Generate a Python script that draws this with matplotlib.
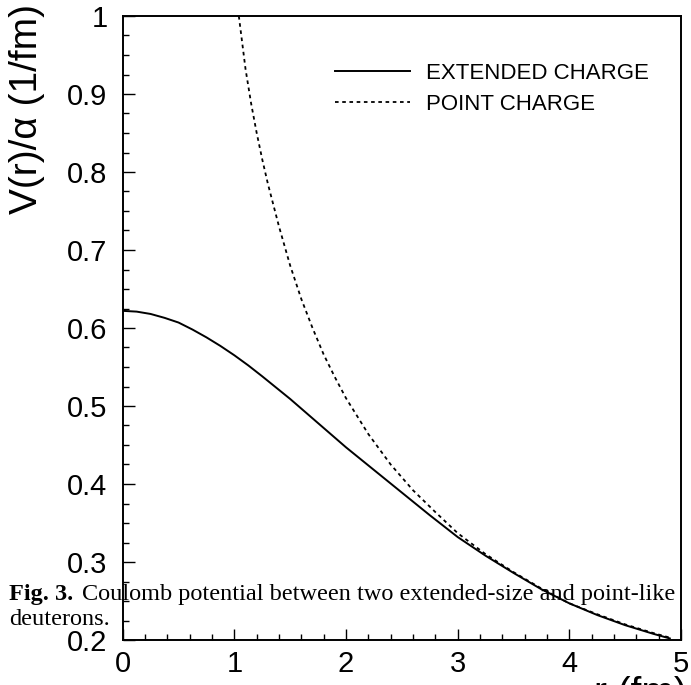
"""Coulomb potential between two deuterons: extended vs point charge."""

import matplotlib
matplotlib.use("Agg")
import matplotlib.pyplot as plt
from matplotlib.ticker import MultipleLocator, FuncFormatter

# values
r_ext = [0.0, 0.125, 0.25, 0.375, 0.5, 0.625, 0.75, 0.875, 1.0, 1.125,
         1.25, 1.5, 1.75, 2.0, 2.25, 2.5, 2.75, 3.0, 3.25, 3.5, 3.75, 4.0,
         4.25, 4.5, 4.75, 4.9]
v_ext = [0.622, 0.621, 0.618, 0.613, 0.607, 0.598, 0.588, 0.577, 0.565,
         0.552, 0.538, 0.509, 0.478, 0.447, 0.418, 0.389, 0.360, 0.332,
         0.308, 0.286, 0.265, 0.247, 0.232, 0.219, 0.208, 0.202]

r_point = [1.04, 1.07, 1.1, 1.15, 1.2, 1.25, 1.3, 1.4, 1.5, 1.6, 1.7, 1.8,
           1.9, 2.0, 2.2, 2.4, 2.6, 2.8, 3.0, 3.25, 3.5, 3.75, 4.0, 4.25,
           4.5, 4.75, 4.9]
v_point = [1.0, 0.966, 0.932, 0.888, 0.850, 0.816, 0.785, 0.730, 0.680,
           0.637, 0.600, 0.566, 0.537, 0.510, 0.464, 0.425, 0.392, 0.364,
           0.337, 0.310, 0.287, 0.266, 0.247, 0.233, 0.220, 0.209, 0.203]

labels = ["EXTENDED CHARGE", "POINT CHARGE"]

W, H = 691, 685
plt.rcParams["font.family"] = ["Liberation Sans", "DejaVu Sans"]

fig = plt.figure(figsize=(W / 100, H / 100), dpi=100)
ax = fig.add_axes([122.7 / W, 1 - 640 / H, (681 - 122.7) / W, (640 - 16) / H])

ax.plot(r_ext, v_ext, color="black", lw=1.4, label=labels[0])
ax.plot(r_point, v_point, color="black", lw=1.3, ls=(0, (2, 2)), label=labels[1])

ax.set_xlim(0, 5)
ax.set_ylim(0.2, 1.0)
ax.xaxis.set_major_locator(MultipleLocator(1))
ax.xaxis.set_minor_locator(MultipleLocator(0.2))
ax.yaxis.set_major_locator(MultipleLocator(0.1))
ax.yaxis.set_minor_locator(MultipleLocator(0.025))
fmt = FuncFormatter(lambda v, _: f"{v:g}")
ax.xaxis.set_major_formatter(fmt)
ax.yaxis.set_major_formatter(fmt)
ax.tick_params(which="both", direction="in", top=False, right=False,
               labelsize=21, width=1)
ax.tick_params(axis="y", which="major", length=8.5, pad=11)
ax.tick_params(axis="x", which="major", length=8, pad=7)
ax.tick_params(which="minor", length=4.3)
for s in ax.spines.values():
    s.set_linewidth(1.4)

ax.legend(loc="upper left", bbox_to_anchor=(0.38, 0.925), frameon=False,
          fontsize=16, handlelength=3.4, handletextpad=0.7, labelspacing=0.45,
          borderpad=0, borderaxespad=0)

# axis titles, ROOT style (aligned to the axis ends)
fig.text(27 / W, 1 - 4 / H, "V(r)/\u03b1 (1/fm)", rotation=90, ha="center",
         va="top", fontsize=28)
fig.text(687 / W, 1 - 676 / H, "r (fm)", ha="right", va="top", fontsize=28)

# caption overlapping the plot
fig.text(9 / W, 1 - 600 / H, "Fig. 3.", family="Liberation Serif",
         weight="bold", fontsize=17.5, va="baseline")
fig.text(82 / W, 1 - 600 / H,
         "Coulomb potential between two extended-size and point-like",
         family="Liberation Serif", fontsize=17.5, va="baseline")
fig.text(9 / W, 1 - 625 / H, "deuterons.", family="Liberation Serif",
         fontsize=17.5, va="baseline")

fig.savefig("out.png", dpi=100)
